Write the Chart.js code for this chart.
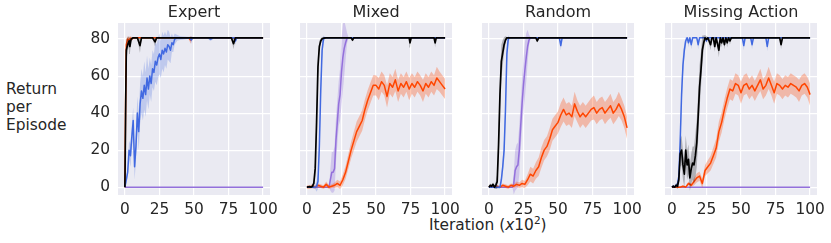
<!DOCTYPE html>
<html>
<head>
<meta charset="utf-8">
<script src="https://cdn.jsdelivr.net/npm/chart.js@4.4.0/dist/chart.umd.min.js"></script>
<style>
  body { margin: 0; width: 831px; height: 243px; background: #fff; position: relative; overflow: hidden;
         font-family: "DejaVu Sans", sans-serif; color: #262626; }
  canvas { position: absolute; top: 0; }
  .ylabel { position: absolute; left: 6px; top: 81px; font-size: 15.4px; line-height: 17.8px; }
  .xlabel { position: absolute; left: 429px; top: 217px; font-size: 15.4px; line-height: 17.8px; white-space: nowrap; }
  .xlabel sup { font-size: 10.5px; line-height: 0; }
</style>
</head>
<body>
<div class="ylabel">Return<br>per<br>Episode</div>
<div class="xlabel">Iteration (<i>x</i>10<sup>2</sup>)</div>

<script>
// ticks / titles
const panelTitles = ["Expert", "Mixed", "Random", "Missing Action"];
const xTickVals = [0, 25, 50, 75, 100];
const yTickVals = [0, 20, 40, 60, 80];

// shared x grid for the noisy orange runs
const stepX = [0, 2, 4, 6, 8, 10, 12, 14, 16, 18, 20, 22, 24, 26, 28, 30, 32, 34, 36, 38, 40, 42, 44, 46, 48, 50,
  52, 54, 56, 58, 60, 62, 64, 66, 68, 70, 72, 74, 76, 78, 80, 82, 84, 86, 88, 90, 92, 94, 96, 98, 100];

// ---- Expert ----
const expertOrangeX = [0, 0.5, 1, 2, 3, 4, 5, 6, 10, 20, 30, 46, 47.5, 49, 60, 80, 100];
const expertOrange = [0, 45, 77, 80, 79.5, 80.5, 80, 80.7, 80.7, 80.7, 80.7, 80.7, 79.5, 80.7, 80.7, 80.7, 80.7];
const expertOrangeSd = [0, 8, 3, 1.5, 1.5, 1, 1, 0.5, 0.3, 0.3, 0.3, 0.3, 2, 0.3, 0.3, 0.3, 0.3];

const expertBlueX = [0, 1, 2, 3, 4, 5, 6, 7, 8, 9, 10, 11, 12, 13, 14, 15, 16, 17, 18, 19, 20, 21, 22, 23, 24, 25,
  26, 27, 28, 29, 30, 31, 32, 33, 34, 35, 36, 38, 40, 47, 48, 49, 60, 62, 64, 79, 80, 81, 100];
const expertBlue = [0, 4, 8, 20, 17, 27, 36, 11, 22, 40, 30, 45, 52, 48, 55, 50, 59, 53, 60, 56, 64, 62, 68, 66, 70, 72,
  69, 74, 72, 75, 73, 77, 76, 74, 78, 77, 80, 80.7, 80.5, 80.7, 79.5, 80.7, 80.7, 80, 80.7, 80.7, 79, 80.7, 80.7];
const expertBlueSd = [0, 2, 3, 5, 6, 7, 7, 7, 8, 9, 10, 11, 12, 12, 13, 12, 12, 11, 10, 10, 10, 10, 11, 11, 11, 11,
  10, 10, 10, 9, 9, 8, 8, 7, 5, 4, 3, 1.5, 1, 0.5, 2, 0.5, 0.5, 1, 0.5, 0.5, 2, 0.5, 0.5];

const expertBlackX = [0, 0.5, 1, 2, 3, 3.6, 4.5, 6, 9, 10.9, 12, 20, 21.8, 23, 40, 77, 78.6, 80, 100];
const expertBlack = [0, 40, 74, 77, 79, 76, 80, 80.7, 80.7, 76.5, 80.7, 80.7, 78.5, 80.7, 80.7, 80.7, 77.5, 80.7, 80.7];
const expertBlackSd = [0, 10, 6, 4, 2.5, 4, 1, 0.5, 0.5, 4, 0.5, 0.5, 2.5, 0.5, 0.3, 0.3, 3, 0.3, 0.3];

const expertPurpleX = [0, 100];
const expertPurple = [0, 0];
const expertPurpleSd = [0, 0];

// ---- Mixed ----
const mixedOrange = [0, 0, 0.5, 0, 1, 0.5, 0, 1.5, 0, 0.5, 1, 2, 1, 4, 8, 14, 20, 25, 30, 33,
  36, 42, 47, 51, 55, 55, 53, 57, 55, 49, 56, 54, 58, 52, 56, 54, 57, 53, 56, 54,
  57, 55, 52, 56, 54, 57, 55, 59, 57, 55, 53];
const mixedOrangeSd = [1, 1, 1, 1, 1, 1, 1, 1.5, 1, 1, 1.5, 2, 2, 3, 3.5, 4, 4.5, 5, 5.5, 5.5,
  5.5, 5.5, 5.5, 5.5, 5.5, 5.5, 6, 5.5, 5.5, 6, 5.5, 5.5, 6, 6, 5.5, 5.5, 5.5, 6, 5.5, 5.5,
  5.5, 5.5, 6, 5.5, 5.5, 5.5, 5.5, 6, 5.5, 5.5, 5.5];

const mixedBlueX = [0, 6, 7, 8, 9, 10, 11, 12, 13, 20, 100];
const mixedBlue = [0, 0, 0.5, 3, 22, 52, 74, 80, 80.7, 80.7, 80.7];
const mixedBlueSd = [0, 1, 3, 4, 6, 7, 5, 2, 0.5, 0.3, 0.3];

const mixedPurpleX = [0, 16, 17, 18, 19, 20, 21, 22, 23, 24, 25, 26, 27, 28, 29, 30, 100];
const mixedPurple = [0, 0, 4, 8, 8, 10, 25, 35, 45, 50, 62, 70, 75, 78, 80.5, 80.7, 80.7];
const mixedPurpleSd = [0, 0, 6, 11, 11, 12, 12, 12, 12, 14, 18, 18, 15, 9, 3, 0.5, 0.3];

const mixedBlackX = [0, 2, 3, 4, 5, 6, 7, 8, 9, 10, 11, 12, 14, 20, 32, 33, 34, 60, 74, 74.6, 75.5, 92, 92.8, 93.6, 100];
const mixedBlack = [0, 0.3, 0, 0.5, 2, 10, 35, 65, 76, 79, 80.2, 80.5, 80.7, 80.7, 80.7, 79.5, 80.7, 80.7, 80.7, 78, 80.7, 80.7, 78, 80.7, 80.7];
const mixedBlackSd = [0, 0.5, 0.5, 1, 2, 4, 6, 6, 3, 1.5, 1, 0.5, 0.3, 0.3, 0.3, 1, 0.3, 0.3, 0.3, 2.5, 0.3, 0.3, 2.5, 0.3, 0.3];

// ---- Random ----
const randomOrange = [0, 0.5, 0, 0.5, 0, 1, 0.5, 0, 1, 0.5, 1.5, 1, 2, 1.5, 4, 7, 6, 9, 11, 16,
  20, 22, 26, 31, 33, 35, 39, 42, 39, 40, 38, 45, 41, 38, 40, 38, 40, 42, 43, 40,
  42, 43, 40, 42, 44, 40, 42, 45, 42, 38, 32];
const randomOrangeSd = [0.5, 0.5, 0.5, 0.5, 0.5, 1, 1, 1, 1, 1, 1.5, 1.5, 2, 2, 3, 4, 4, 4.5, 5, 5.5,
  5.5, 5.5, 6, 6, 6, 6, 6.5, 6.5, 6, 6, 6, 6.5, 6, 6, 6, 6, 6, 6, 6.5, 6,
  6, 6, 6, 6, 6.5, 6, 6, 6.5, 6, 6, 6];

const randomBlueX = [0, 8, 9, 10, 11, 12, 13, 14, 15, 51, 52, 53, 100];
const randomBlue = [0, 0, 4, 11, 20, 42, 72, 80, 80.7, 80.7, 76.5, 80.7, 80.7];
const randomBlueSd = [0, 1, 3, 4, 6, 7, 6, 2, 0.5, 0.3, 2.5, 0.3, 0.3];

const randomPurpleX = [0, 17, 18, 19, 20, 21, 22, 23, 24, 25, 26, 27, 28, 29, 30, 100];
const randomPurple = [0, 0, 2, 9, 11, 12, 20, 33, 45, 55, 63, 70, 76, 79.5, 80.7, 80.7];
const randomPurpleSd = [0, 0, 6, 11, 12, 12, 13, 13, 13, 14, 15, 13, 9, 3, 0.5, 0.3];

const randomBlackX = [0, 1, 2, 3, 4, 5, 6, 7, 8, 9, 10, 11, 12, 13, 20, 34, 35, 36, 60, 100];
const randomBlack = [0, 1, 0.5, 1.5, 0, 1, 3, 23, 50, 68, 72.5, 77, 79.5, 80.7, 80.7, 80.7, 79, 80.7, 80.7, 80.7];
const randomBlackSd = [0.5, 1, 1, 1, 1, 2, 4, 8, 9, 9, 7, 4, 2, 0.5, 0.3, 0.3, 1, 0.3, 0.3, 0.3];

// ---- Missing Action ----
const missingOrange = [0, 0, 0, 0, 0.5, 0, 2, 1, 3, 5, 6, 2, 9, 11, 13, 17, 21, 30, 35, 42,
  48, 53, 52, 56, 55, 51, 55, 56, 53, 55, 52, 55, 58, 53, 55, 59, 55, 51, 56, 55,
  53, 55, 54, 56, 55, 54, 52, 55, 56, 54, 50];
const missingOrangeSd = [0.5, 0.5, 0.5, 0.5, 0.5, 0.5, 1, 1, 2, 2.5, 2.5, 2.5, 3, 3.5, 4, 4.5, 5, 5.5, 5.5, 5.5,
  5.5, 5.5, 5.5, 5.5, 5.5, 6, 5.5, 5.5, 5.5, 5.5, 5.5, 5.5, 6, 5.5, 5.5, 6, 5.5, 6, 5.5, 5.5,
  5.5, 5.5, 5.5, 5.5, 5.5, 5.5, 6, 5.5, 5.5, 5.5, 6];

const missingBlueX = [0, 1, 2, 3, 4, 5, 6, 7, 8, 9, 10, 11, 12, 13, 14, 15, 18, 19, 20, 24, 25, 26,
  51, 52, 53, 57, 58, 59, 68, 69, 70, 100];
const missingBlue = [0, 0.5, 0, 1, 1.5, 6, 25, 50, 66, 74, 79, 80.7, 78, 80.7, 77, 80.7, 80.7, 77, 80.7, 80.7, 79, 80.7,
  80.7, 76.5, 80.7, 80.7, 77, 80.7, 80.7, 76, 80.7, 80.7];
const missingBlueSd = [0, 0.5, 0.5, 1, 1, 3, 7, 7, 6, 4, 2, 0.5, 2.5, 0.5, 2.5, 0.5, 0.3, 2.5, 0.3, 0.3, 1.5, 0.3,
  0.3, 2.5, 0.3, 0.3, 2.5, 0.3, 0.3, 2.5, 0.3, 0.3];

const missingPurpleX = [0, 100];
const missingPurple = [0, 0];
const missingPurpleSd = [0, 0];

const missingBlackX = [0, 1, 2, 3, 4, 5, 6, 7, 8, 9, 10, 11, 12, 13, 14, 15, 16, 17, 18, 19, 20, 21, 22, 23, 24, 25, 26,
  28, 29, 30, 31, 32, 34, 35, 36, 37, 38, 39, 40, 41, 42, 43, 45, 78, 79, 80, 100];
const missingBlack = [0, 0.5, 0, 1, 0.5, 4, 18, 20, 12, 7, 20, 12, 15, 5, 10, 13, 12, 17, 24, 38, 54, 63, 74, 78, 80.7, 80, 80.7,
  77, 80.7, 80.7, 76, 80.7, 74, 80.7, 78, 80.7, 77, 80.7, 78, 80.7, 79, 80.7, 80.7, 80.7, 77, 80.7, 80.7];
const missingBlackSd = [0.5, 0.5, 0.5, 1, 1.5, 4, 7, 8, 8, 7, 8, 8, 8, 7, 8, 9, 10, 12, 13, 13, 12, 10, 8, 4, 1.5, 1.5, 0.5,
  3, 0.5, 0.5, 3, 0.5, 4, 0.5, 2.5, 0.5, 2.5, 0.5, 2.5, 0.5, 2, 0.5, 0.3, 0.3, 2.5, 0.3, 0.3];

const COLORS = {
  black:  { line: "#000000", band: "rgba(0,0,0,0.25)" },
  blue:   { line: "#4169E1", band: "rgba(65,105,225,0.25)" },
  orange: { line: "#FF4500", band: "rgba(255,69,0,0.3)" },
  purple: { line: "#9370DB", band: "rgba(147,112,219,0.3)" }
};

// top-most series first
const panels = [
  [
    ["black", expertBlackX, expertBlack, expertBlackSd],
    ["blue", expertBlueX, expertBlue, expertBlueSd],
    ["orange", expertOrangeX, expertOrange, expertOrangeSd],
    ["purple", expertPurpleX, expertPurple, expertPurpleSd]
  ],
  [
    ["black", mixedBlackX, mixedBlack, mixedBlackSd],
    ["blue", mixedBlueX, mixedBlue, mixedBlueSd],
    ["orange", stepX, mixedOrange, mixedOrangeSd],
    ["purple", mixedPurpleX, mixedPurple, mixedPurpleSd]
  ],
  [
    ["black", randomBlackX, randomBlack, randomBlackSd],
    ["blue", randomBlueX, randomBlue, randomBlueSd],
    ["orange", stepX, randomOrange, randomOrangeSd],
    ["purple", randomPurpleX, randomPurple, randomPurpleSd]
  ],
  [
    ["black", missingBlackX, missingBlack, missingBlackSd],
    ["blue", missingBlueX, missingBlue, missingBlueSd],
    ["orange", stepX, missingOrange, missingOrangeSd],
    ["purple", missingPurpleX, missingPurple, missingPurpleSd]
  ]
];

const panelLefts = [118, 300, 482, 665];
const AXIS_W = 60;
const textColor = "#262626";
const font = { family: "DejaVu Sans", size: 15.4 };

const bgPlugin = {
  id: "bg",
  beforeDraw(chart) {
    const { ctx, chartArea: a } = chart;
    ctx.save();
    ctx.fillStyle = "#EAEAF2";
    ctx.fillRect(a.left, a.top, a.right - a.left, a.bottom - a.top);
    ctx.restore();
  }
};

function buildDatasets(series) {
  const out = [];
  series.forEach(([name, xs, mean, sd]) => {
    const c = COLORS[name];
    out.push({
      data: xs.map((x, i) => ({ x: x, y: mean[i] })),
      borderColor: c.line, borderWidth: name === "black" ? 1.7 : 1.5, fill: false
    });
    out.push({
      data: xs.map((x, i) => ({ x: x, y: mean[i] + sd[i] })),
      borderWidth: 0, borderColor: "rgba(0,0,0,0)", backgroundColor: c.band, fill: "+1"
    });
    out.push({
      data: xs.map((x, i) => ({ x: x, y: mean[i] - sd[i] })),
      borderWidth: 0, borderColor: "rgba(0,0,0,0)", fill: false
    });
  });
  return out;
}

panels.forEach((series, p) => {
  const canvas = document.createElement("canvas");
  canvas.width = AXIS_W + 152 + 20;
  canvas.height = 243;
  canvas.style.left = (panelLefts[p] - AXIS_W) + "px";
  document.body.appendChild(canvas);

  new Chart(canvas.getContext("2d"), {
    type: "line",
    data: { datasets: buildDatasets(series) },
    plugins: [bgPlugin],
    options: {
      responsive: false,
      animation: false,
      devicePixelRatio: 1,
      layout: { padding: { left: 0, right: 20, top: 0, bottom: 0 } },
      elements: { point: { radius: 0 }, line: { tension: 0, borderJoinStyle: "round" } },
      plugins: {
        legend: { display: false },
        tooltip: { enabled: false },
        title: {
          display: true, text: panelTitles[p], fullSize: false, color: textColor,
          font: { family: "DejaVu Sans", size: 16, weight: "normal" },
          padding: { top: 3, bottom: 0.8 }
        }
      },
      scales: {
        x: {
          type: "linear", min: -5, max: 105,
          border: { display: false },
          grid: { color: "#ffffff", lineWidth: 1.2, drawTicks: false },
          ticks: { color: textColor, font: font, padding: 5.5, maxRotation: 0, autoSkip: false },
          afterBuildTicks: s => { s.ticks = xTickVals.map(v => ({ value: v })); },
          afterFit: s => { s.height = 48; s.paddingLeft = 0; s.paddingRight = 0; }
        },
        y: {
          type: "linear", min: -4.25, max: 88.7,
          border: { display: false },
          grid: { color: "#ffffff", lineWidth: 1.2, drawTicks: false },
          ticks: { display: p === 0, color: textColor, font: font, padding: 8 },
          afterBuildTicks: s => { s.ticks = yTickVals.map(v => ({ value: v })); },
          afterFit: s => { s.width = AXIS_W; s.paddingTop = 0; s.paddingBottom = 0; }
        }
      }
    }
  });
});
</script>
</body>
</html>
